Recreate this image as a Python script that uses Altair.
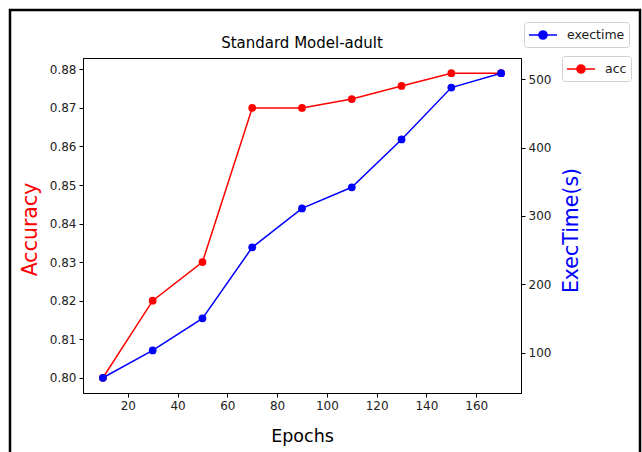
import altair as alt
import pandas as pd

epochs = [10, 30, 50, 70, 90, 110, 130, 150, 170]
acc = [0.800, 0.820, 0.830, 0.870, 0.870, 0.8723, 0.8757, 0.879, 0.879]
exectime = [63, 103, 150, 254, 311, 342, 412, 488, 509]
x_ticks = [20, 40, 60, 80, 100, 120, 140, 160]
acc_ticks = [0.80, 0.81, 0.82, 0.83, 0.84, 0.85, 0.86, 0.87, 0.88]
time_ticks = [100, 200, 300, 400, 500]

df = pd.DataFrame({
    "epoch": epochs,
    "acc": acc,
    "exectime": exectime,
    "s_acc": ["acc"] * len(epochs),
    "s_time": ["exectime"] * len(epochs),
})

FONT = "DejaVu Sans"
# line of 28px with a dot of radius ~4px, for symbolSize 256 (unit = 8px)
LEG_SYM = "M-1.75,0L1.75,0M-0.5,0A0.5,0.5 0 1,0 0.5,0A0.5,0.5 0 1,0 -0.5,0Z"

x_enc = alt.X(
    "epoch:Q",
    scale=alt.Scale(domain=[2, 178], nice=False, zero=False),
    axis=alt.Axis(values=x_ticks, title="Epochs", titleFontSize=17.5, titleFont=FONT,
                  titleFontWeight="normal", titleColor="black",
                  titleX=219, titleY=43, titleAlign="center", titleBaseline="middle"),
)

def legend(col, lx, ly):
    return alt.Legend(
        title=None, orient="none", legendX=lx, legendY=ly,
        symbolType=LEG_SYM, symbolSize=256, symbolStrokeWidth=1.6,
        symbolFillColor=col, symbolStrokeColor=col, symbolOffset=6,
        labelFont=FONT, labelFontSize=12.5, labelColor="#222",
        labelExpr="datum.label + ' '",
        padding=4, strokeColor="#d0d0d0", fillColor="white", cornerRadius=3,
        labelOffset=15,
    )

acc_layer = alt.Chart(df).mark_line(
    strokeWidth=1.5,
    point=alt.OverlayMarkDef(filled=True, size=60, opacity=1),
).encode(
    x=x_enc,
    y=alt.Y("acc:Q",
            scale=alt.Scale(domain=[0.79605, 0.88295], nice=False, zero=False),
            axis=alt.Axis(orient="left", values=acc_ticks, format=".2f", title="Accuracy",
                          titleColor="red", titleFontSize=20.5, titleFont=FONT,
                          titleFontWeight="normal", titleAngle=270,
                          titleX=-53, titleY=171, titleAlign="center", titleBaseline="middle")),
    color=alt.Color("s_acc:N", scale=alt.Scale(domain=["acc"], range=["#ff0000"]),
                    legend=legend("#ff0000", 479, -2)),
)

time_layer = alt.Chart(df).mark_line(
    strokeWidth=1.5,
    point=alt.OverlayMarkDef(filled=True, size=60, opacity=1),
).encode(
    x=x_enc,
    y=alt.Y("exectime:Q",
            scale=alt.Scale(domain=[40.7, 531.3], nice=False, zero=False),
            axis=alt.Axis(orient="right", values=time_ticks, title="ExecTime(s)",
                          titleColor="#0000ff", titleFontSize=20.5, titleFont=FONT,
                          titleFontWeight="normal", titleAngle=270,
                          titleX=50, titleY=172, titleAlign="center", titleBaseline="middle")),
    color=alt.Color("s_time:N", scale=alt.Scale(domain=["exectime"], range=["#0000ff"]),
                    legend=legend("#0000ff", 441, -36)),
)

frame = alt.Chart(pd.DataFrame({"k": [0]})).mark_rect(
    fill=None, stroke="black", strokeWidth=2.5
).encode(
    x=alt.value(-73), x2=alt.value(557), y=alt.value(-48), y2=alt.value(420)
)

chart = alt.layer(frame, acc_layer, time_layer).resolve_scale(
    y="independent", color="independent"
).properties(
    width=438, height=335,
    title=alt.TitleParams("Standard Model-adult", fontSize=15, font=FONT,
                          fontWeight="normal", anchor="middle", offset=8, dy=50,
                          color="black"),
    autosize=alt.AutoSizeParams(type="none"),
    padding={"left": 83, "top": 58, "right": 121, "bottom": 59},
    background="white",
).configure_view(
    stroke="black", strokeWidth=1
).configure_axis(
    grid=False, domainColor="black", tickColor="black", tickSize=4,
    labelFont=FONT, labelFontSize=12, labelColor="#222", labelPadding=3,
    domainWidth=1, tickWidth=1,
)

chart.save("out.html", embed_options={"renderer": "svg", "actions": False})
